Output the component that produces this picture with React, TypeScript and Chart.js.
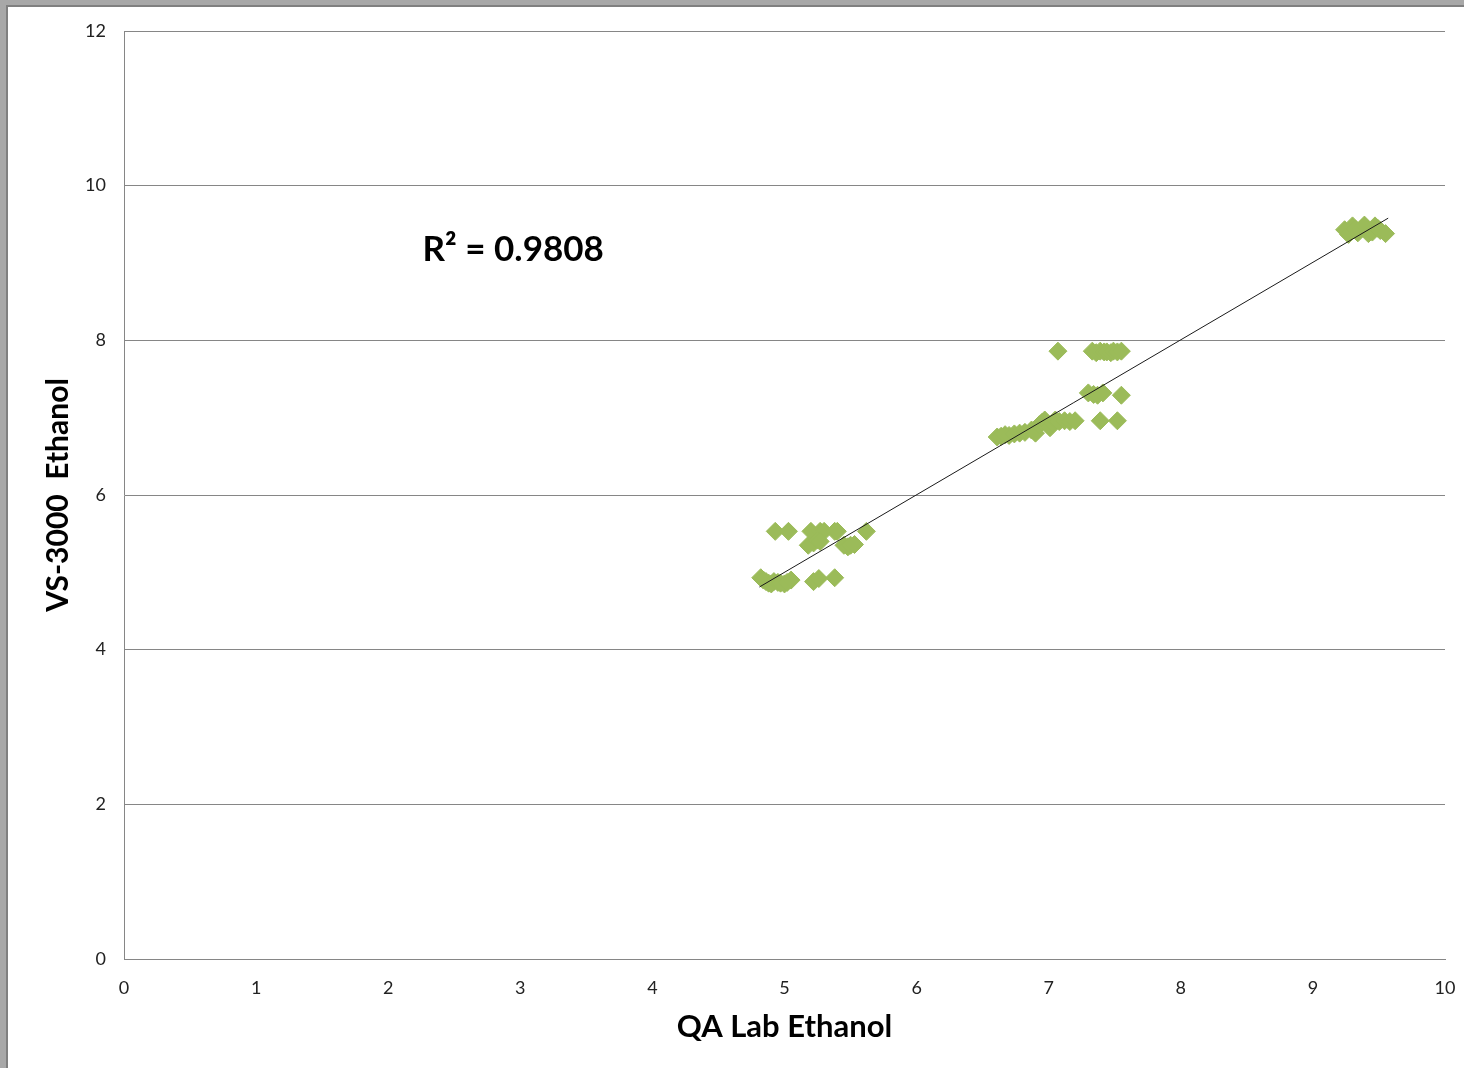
import React, { useEffect, useRef } from "react";
import { Chart, registerables } from "chart.js";

Chart.register(...registerables);

// Observations: QA Lab Ethanol (x) vs VS-3000 Ethanol (y)
const clusterLowX = [4.93, 5.03, 5.2, 5.27, 5.3, 5.38, 5.4, 5.62, 5.18, 5.22, 5.25, 5.45, 5.48, 5.5, 5.53, 5.27, 4.82, 4.84, 4.86, 4.88, 4.9, 4.92, 4.95, 4.97, 5.0, 5.02, 5.05, 5.22, 5.26, 5.38];
const clusterLowY = [5.53, 5.53, 5.53, 5.53, 5.53, 5.53, 5.53, 5.53, 5.35, 5.38, 5.42, 5.35, 5.33, 5.35, 5.36, 5.4, 4.93, 4.9, 4.88, 4.86, 4.85, 4.88, 4.87, 4.86, 4.85, 4.87, 4.9, 4.88, 4.92, 4.93];

const clusterMidX = [6.61, 6.64, 6.67, 6.7, 6.74, 6.78, 6.82, 6.87, 6.9, 6.93, 6.95, 6.97, 7.01, 7.03, 7.05, 7.08, 7.12, 7.16, 7.2, 7.39, 7.52, 7.3, 7.34, 7.37, 7.41, 7.55, 7.07, 7.33, 7.36, 7.39, 7.42, 7.44, 7.47, 7.49, 7.52, 7.55];
const clusterMidY = [6.75, 6.76, 6.78, 6.77, 6.79, 6.8, 6.81, 6.84, 6.8, 6.91, 6.94, 6.97, 6.87, 6.93, 6.97, 6.95, 6.96, 6.95, 6.96, 6.96, 6.96, 7.32, 7.3, 7.29, 7.32, 7.29, 7.86, 7.86, 7.84, 7.86, 7.85, 7.85, 7.84, 7.86, 7.85, 7.86];

const clusterHighX = [9.24, 9.27, 9.3, 9.32, 9.34, 9.37, 9.39, 9.42, 9.45, 9.47, 9.49, 9.51, 9.55];
const clusterHighY = [9.43, 9.37, 9.48, 9.44, 9.39, 9.45, 9.49, 9.38, 9.4, 9.48, 9.45, 9.42, 9.38];

// Linear trend line end points
const trendX = [4.81, 9.57];
const trendY = [4.81, 9.58];

const r2Label = "R² = 0.9808";
const xTitle = "QA Lab Ethanol";
const yTitle = "VS-3000  Ethanol";

const FONT = "Lato, 'Open Sans', sans-serif";

function zip(xs: number[], ys: number[]) {
  return xs.map((x, i) => ({ x, y: ys[i] }));
}

const r2Plugin = {
  id: "r2Label",
  afterDatasetsDraw(chart: any) {
    const { ctx, scales } = chart;
    const px = scales.x.getPixelForValue(2.26);
    const py = scales.y.getPixelForValue(9.17);
    ctx.save();
    ctx.font = `bold 35px ${FONT}`;
    ctx.fillStyle = "#000";
    ctx.textAlign = "left";
    ctx.textBaseline = "middle";
    ctx.fillText(r2Label, px, py);
    ctx.restore();
  },
};

export default function App() {
  const ref = useRef<HTMLCanvasElement>(null);

  useEffect(() => {
    if (!ref.current) return;
    const points = [
      ...zip(clusterLowX, clusterLowY),
      ...zip(clusterMidX, clusterMidY),
      ...zip(clusterHighX, clusterHighY),
    ];
    const chart = new Chart(ref.current, {
      type: "scatter",
      data: {
        datasets: [
          {
            label: "Linear",
            data: zip(trendX, trendY),
            showLine: true,
            borderColor: "#1a1a1a",
            borderWidth: 1,
            pointRadius: 0,
            fill: false,
          } as any,
          {
            label: "Ethanol",
            data: points,
            pointStyle: "rectRot",
            pointRadius: 9,
            pointBorderWidth: 1,
            backgroundColor: "#9BBB59",
            borderColor: "#9BBB59",
            pointHoverRadius: 9,
          } as any,
        ],
      },
      options: {
        animation: false,
        responsive: false,
        events: [],
        layout: { padding: { left: 0, top: 31, right: 19, bottom: 0 } },
        plugins: { legend: { display: false }, tooltip: { enabled: false } },
        scales: {
          x: {
            type: "linear",
            min: 0,
            max: 10,
            afterFit: (s: any) => {
              s.height = 109;
              s.paddingRight = 0;
              s.paddingLeft = 0;
            },
            ticks: { stepSize: 1, padding: 18, color: "#222", font: { family: FONT, size: 18 } },
            grid: { display: false, drawTicks: false },
            border: { display: true, color: "#868686", width: 1 },
            title: {
              display: true,
              text: xTitle,
              color: "#000",
              font: { family: FONT, size: 31, weight: "bold" },
              padding: { top: 0, bottom: 22 },
            },
          },
          y: {
            type: "linear",
            min: 0,
            max: 12,
            afterFit: (s: any) => {
              s.width = 124;
            },
            ticks: { stepSize: 2, padding: 18, color: "#222", font: { family: FONT, size: 18 } },
            grid: { color: "#868686", lineWidth: 1, drawTicks: false },
            border: { display: true, color: "#868686", width: 1 },
            title: {
              display: true,
              text: yTitle,
              color: "#000",
              font: { family: FONT, size: 30, weight: "bold" },
              padding: { top: 40, bottom: 0 },
            },
          },
        },
      },
      plugins: [r2Plugin],
    });
    return () => chart.destroy();
  }, []);

  return (
    <div style={{ position: "fixed", left: 0, top: 0, width: 1464, height: 1068, background: "#a8a8a8" }}>
      <div
        style={{
          position: "absolute",
          left: 6,
          top: 5,
          right: 0,
          bottom: 0,
          background: "#fff",
          borderLeft: "2px solid #808080",
          borderTop: "2px solid #808080",
        }}
      />
      <canvas
        ref={ref}
        width={1464}
        height={1068}
        style={{ position: "absolute", left: 0, top: 0, width: 1464, height: 1068 }}
      />
    </div>
  );
}
